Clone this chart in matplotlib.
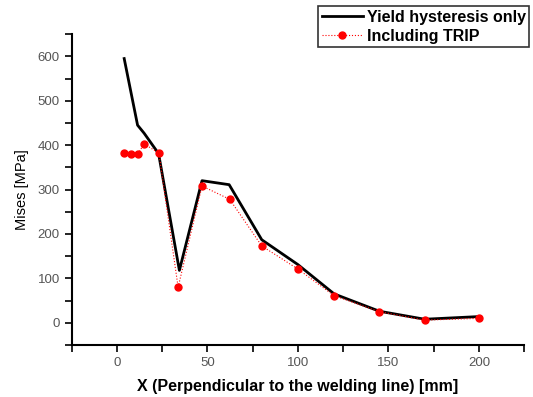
import numpy as np
import matplotlib
matplotlib.use("Agg")
import matplotlib.pyplot as plt
from matplotlib.ticker import MultipleLocator

plt.rcParams['font.family'] = ['Liberation Sans', 'DejaVu Sans']

# Yield hysteresis only (black line)
x_yield = [4, 11.4, 15, 23, 34.5, 47, 62, 80, 100, 120, 145, 170, 200]
y_yield = [595, 445, 427, 381, 118, 320, 311, 187, 131, 65, 26, 8, 14]

# Including TRIP (red dotted with markers)
x_trip = [3.7, 7.5, 11.4, 15, 23.2, 33.8, 47, 62.3, 80, 100, 120, 145, 170, 200]
y_trip = [383, 380, 379, 403, 382, 80, 308, 278, 173, 121, 61, 25, 6, 10]

fig = plt.figure(figsize=(5.33, 3.97), dpi=100)
ax = fig.add_axes([0.1345, 0.131, 0.849, 0.783])

ax.plot(x_yield, y_yield, color='black', lw=2, label='Yield hysteresis only')
ax.plot(x_trip, y_trip, color='red', lw=0.8, ls=':', marker='o', ms=5,
        label='Including TRIP')

ax.set_xlim(-25, 225)
ax.set_ylim(-50, 650)
ax.xaxis.set_minor_locator(MultipleLocator(25))
ax.yaxis.set_minor_locator(MultipleLocator(50))
ax.set_xticks([0, 50, 100, 150, 200])
ax.set_yticks([0, 100, 200, 300, 400, 500, 600])

for s in ['top', 'right']:
    ax.spines[s].set_visible(False)
for s in ['left', 'bottom']:
    ax.spines[s].set_linewidth(1.5)

ax.tick_params(which='both', direction='out', width=1.2, labelsize=9.5,
               labelcolor='#555555', length=5)

ax.set_xlabel('X (Perpendicular to the welding line) [mm]', fontsize=11.5,
              fontweight='bold', labelpad=7)
ax.set_ylabel('Mises [MPa]', fontsize=10.5, labelpad=6)

leg = fig.legend(loc='upper right', bbox_to_anchor=(0.999, 0.992),
                 frameon=True, fancybox=False, edgecolor='black',
                 prop={'weight': 'bold', 'size': 11.5}, handlelength=2.6,
                 borderpad=0.2, labelspacing=0.25, handletextpad=0.25,
                 borderaxespad=0.2)
leg.get_frame().set_linewidth(1.2)

fig.savefig('out.png', dpi=100)
